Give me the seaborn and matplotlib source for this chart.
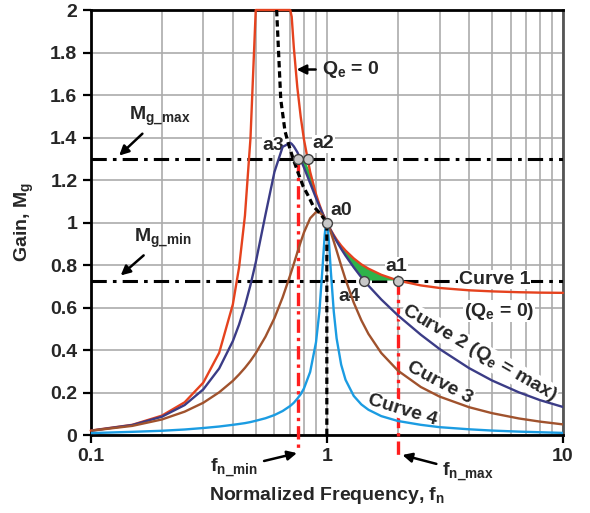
import numpy as np
import pandas as pd
import matplotlib
matplotlib.use("Agg")
import matplotlib.pyplot as plt
import seaborn as sns
from matplotlib.ticker import LogLocator, NullFormatter

# normalized frequency grid shared by the four gain curves
FN = [0.1, 0.15, 0.2, 0.25, 0.3, 0.35, 0.4, 0.425, 0.45, 0.475, 0.5, 0.55, 0.6, 0.65,
      0.7, 0.71, 0.725, 0.75, 0.775, 0.8, 0.85, 0.9, 0.93, 0.96, 0.98, 0.99, 1.0, 1.01,
      1.02, 1.04, 1.07, 1.1, 1.15, 1.2, 1.3, 1.4, 1.5, 1.7, 2.0, 2.5, 3.0, 4.0, 5.0,
      6.5, 8.0, 10.0]

CURVE1 = [0.021, 0.048, 0.091, 0.154, 0.247, 0.387, 0.615, 0.789, 1.032, 1.397, 2.0, 2.0,
          2.0, 2.0, 2.0, 1.968, 1.822, 1.636, 1.498, 1.391, 1.238, 1.133, 1.085, 1.044,
          1.021, 1.010, 1.0, 0.990, 0.981, 0.964, 0.941, 0.920, 0.891, 0.868, 0.831, 0.803,
          0.783, 0.754, 0.727, 0.704, 0.692, 0.681, 0.676, 0.672, 0.670, 0.669]
CURVE2 = [0.020, 0.047, 0.086, 0.141, 0.215, 0.313, 0.442, 0.520, 0.608, 0.706, 0.812, 1.038,
          1.238, 1.356, 1.375, 1.370, 1.358, 1.331, 1.296, 1.259, 1.185, 1.115, 1.077, 1.042,
          1.021, 1.010, 1.0, 0.990, 0.981, 0.962, 0.936, 0.912, 0.876, 0.844, 0.789, 0.742,
          0.703, 0.638, 0.563, 0.472, 0.405, 0.315, 0.257, 0.201, 0.164, 0.132]
CURVE3 = [0.020, 0.043, 0.073, 0.110, 0.152, 0.201, 0.255, 0.285, 0.316, 0.349, 0.385, 0.463,
          0.550, 0.648, 0.753, 0.774, 0.806, 0.859, 0.908, 0.953, 1.020, 1.049, 1.048, 1.034,
          1.019, 1.010, 1.0, 0.990, 0.978, 0.953, 0.911, 0.868, 0.797, 0.732, 0.623, 0.540,
          0.476, 0.386, 0.303, 0.226, 0.181, 0.131, 0.103, 0.078, 0.063, 0.050]
CURVE4 = [0.009, 0.015, 0.020, 0.026, 0.033, 0.040, 0.048, 0.052, 0.056, 0.061, 0.067, 0.079,
          0.094, 0.113, 0.137, 0.143, 0.152, 0.171, 0.192, 0.219, 0.297, 0.437, 0.581, 0.795,
          0.944, 0.990, 1.0, 0.972, 0.914, 0.769, 0.581, 0.455, 0.331, 0.260, 0.184, 0.144,
          0.119, 0.089, 0.066, 0.048, 0.037, 0.027, 0.021, 0.016, 0.013, 0.010]

# peak-gain boundary (black dashed)
LOCUS_FN = [0.613, 0.638, 0.665, 0.69, 0.72, 0.755, 0.794, 0.834, 0.875, 0.934, 1.0, 1.0]
LOCUS_GAIN = [2.0, 1.58, 1.43, 1.365, 1.30, 1.235, 1.17, 1.126, 1.078, 1.044, 1.0, 0.0]

MG_MAX = 1.3
MG_MIN = 0.727
FN_MIN = 0.755
FN_MAX = 2.0

POINT_NAMES = ["a0", "a1", "a2", "a3", "a4"]
POINT_FN = [1.0, 2.0, 0.832, 0.755, 1.43]
POINT_GAIN = [1.0, 0.727, 1.3, 1.3, 0.727]

CURVE_NAMES = ["Curve 1", "Curve 2", "Curve 3", "Curve 4"]
CURVE_COLORS = {"Curve 1": "#E5421E", "Curve 2": "#3B3C86",
                "Curve 3": "#A0522D", "Curve 4": "#1B9CE2"}

sns.set_style("whitegrid")
plt.rcParams["font.family"] = ["Liberation Sans", "DejaVu Sans"]
plt.rcParams["font.weight"] = "bold"
plt.rcParams["mathtext.fontset"] = "custom"
plt.rcParams["mathtext.rm"] = "Liberation Sans:bold"
plt.rcParams["mathtext.it"] = "Liberation Sans:bold"
plt.rcParams["mathtext.bf"] = "Liberation Sans:bold"

fig = plt.figure(figsize=(5.9, 5.13), dpi=100)
ax = fig.add_axes([0.1537, 0.152, 0.8005, 0.8285])
ax.set_xscale("log")
ax.set_axisbelow(True)

df = pd.DataFrame({
    "fn": FN * 4,
    "gain": CURVE1 + CURVE2 + CURVE3 + CURVE4,
    "curve": [name for name in CURVE_NAMES for _ in FN],
})
sns.lineplot(data=df, x="fn", y="gain", hue="curve", palette=CURVE_COLORS,
             estimator=None, sort=False, legend=False, lw=1.7, ax=ax, zorder=4)
ax.lines[0].set_clip_on(False)

# green operating region between curve 1 and curve 2
fn = np.array(FN)
upper = np.minimum(np.array(CURVE1), MG_MAX)
lower = np.maximum(np.array(CURVE2), MG_MIN)
mask = (fn >= FN_MIN) & (fn <= FN_MAX) & (upper > lower)
ax.fill_between(fn, lower, upper, where=mask, interpolate=True,
                color="#2DB34A", lw=0, zorder=3.5)

dashdot = (0, (5, 2, 1.2, 2))
ax.axhline(MG_MAX, color="black", lw=2.2, ls=dashdot, zorder=3)
ax.axhline(MG_MIN, color="black", lw=2.2, ls=dashdot, zorder=3)

red_dd = (0, (4, 1.5, 1, 1.5))
ax.plot([FN_MIN, FN_MIN], [MG_MAX, -0.07], color="#FF1E1E", lw=2.4, ls=red_dd,
        clip_on=False, zorder=3.6)
ax.plot([FN_MAX, FN_MAX], [MG_MIN, -0.095], color="#FF1E1E", lw=2.4, ls=red_dd,
        clip_on=False, zorder=3.6)

ax.plot(LOCUS_FN, LOCUS_GAIN, color="black", lw=2.3, ls=(0, (2, 1.2)), zorder=5)

sns.scatterplot(x=POINT_FN, y=POINT_GAIN, s=50, color="#C8C8C8", edgecolor="#404040",
                linewidth=1, zorder=6, ax=ax)

ax.set_xlim(0.1, 10)
ax.set_ylim(0, 2)
ax.set_xticks([0.1, 1, 10])
ax.set_xticklabels(["0.1", "1", "10"])
ax.xaxis.set_minor_locator(LogLocator(base=10, subs=np.arange(2, 10)))
ax.xaxis.set_minor_formatter(NullFormatter())
YTICKS = [0, 0.2, 0.4, 0.6, 0.8, 1.0, 1.2, 1.4, 1.6, 1.8, 2.0]
ax.set_yticks(YTICKS)
ax.set_yticklabels(["0", "0.2", "0.4", "0.6", "0.8", "1", "1.2", "1.4", "1.6", "1.8", "2"])
ax.grid(which="both", axis="x", color="#ABABAB", lw=1.2)
ax.grid(which="major", axis="y", color="#ABABAB", lw=1.2)
ax.tick_params(which="major", labelsize=14, length=6, width=1.6, color="black",
               bottom=True, left=True, direction="out")
ax.tick_params(which="minor", length=0)
for side in ["left", "bottom", "top"]:
    ax.spines[side].set_color("black")
    ax.spines[side].set_linewidth(2)
ax.spines["right"].set_color("#555555")
ax.spines["right"].set_linewidth(2)

ax.set_xlabel("Normalized Frequency, f$_n$", fontsize=14, fontweight="bold", labelpad=14)
ax.set_ylabel("Gain, M$_g$", fontsize=14, fontweight="bold", labelpad=10)

txt = dict(fontsize=14, fontweight="bold", ha="center", va="center", zorder=3.8,
           bbox=dict(fc="white", ec="none", pad=0.4))
label_pos = {"a0": (1.153, 1.055), "a1": (1.97, 0.795), "a2": (0.965, 1.37),
             "a3": (0.593, 1.362), "a4": (1.25, 0.653)}
for name in POINT_NAMES:
    ax.text(*label_pos[name], name, **txt)

ax.text(5.12, 0.732, "Curve 1", **txt)
ax.text(5.37, 0.582, "(Q$_e$ = 0)", **txt)
ax.text(4.42, 0.386, "Curve 2 (Q$_e$ = max)", rotation=-30, **txt)
ax.text(3.0, 0.245, "Curve 3", rotation=-28, **txt)
ax.text(2.1, 0.118, "Curve 4", rotation=-17, **txt)

arrow = dict(arrowstyle="-|>", color="black", lw=1.8, mutation_scale=14, shrinkA=2, shrinkB=0)
ann = dict(fontsize=14, fontweight="bold", ha="center", va="center",
           annotation_clip=False, arrowprops=arrow, zorder=7)
ax.annotate("Q$_e$ = 0", xy=(0.745, 1.72), xytext=(1.26, 1.72), **ann)
ax.annotate("M$_{g\\_max}$", xy=(0.132, 1.315), xytext=(0.197, 1.497), **ann)
ax.annotate("M$_{g\\_min}$", xy=(0.134, 0.751), xytext=(0.202, 0.924), **ann)
ax.annotate("f$_{n\\_min}$", xy=(0.747, -0.085), xytext=(0.405, -0.156), **ann)
ax.annotate("f$_{n\\_max}$", xy=(2.09, -0.094), xytext=(3.97, -0.175), **ann)

fig.savefig("out.png", dpi=100)
